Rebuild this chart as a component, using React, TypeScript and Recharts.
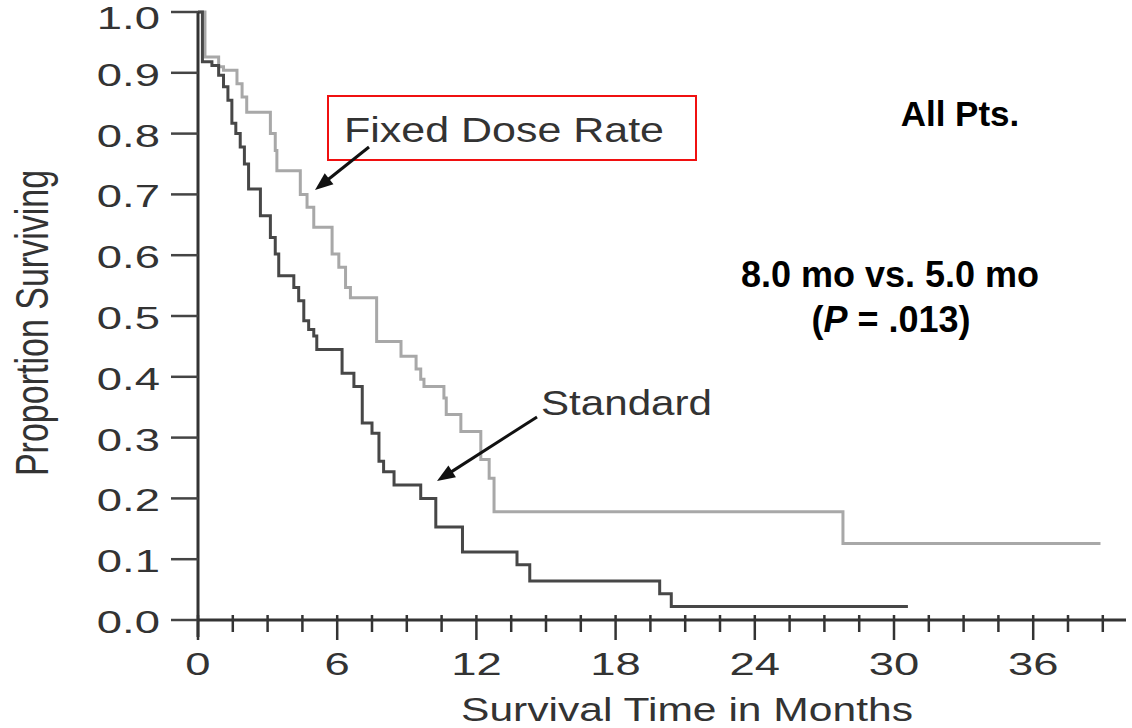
import React from 'react';
import { LineChart, Line, XAxis, YAxis, ReferenceLine } from 'recharts';

// Kaplan-Meier steps (months, proportion surviving)
const FIXED_MONTHS = [0, 0.3, 0.89, 1.1, 1.68, 1.9, 2.1, 3.12, 3.33, 3.4, 4.41, 4.7, 4.99, 5.78, 6.07, 6.36, 6.57, 7.7, 8.75, 9.4, 9.6, 9.74, 10.6, 10.7, 11.33, 12.19, 12.55, 12.76, 27.8, 38.9];
const FIXED_SURVIVAL = [1.0, 0.926, 0.91, 0.904, 0.882, 0.86, 0.835, 0.8, 0.772, 0.739, 0.7, 0.679, 0.646, 0.602, 0.58, 0.547, 0.53, 0.458, 0.434, 0.413, 0.396, 0.384, 0.365, 0.338, 0.31, 0.264, 0.233, 0.178, 0.126, 0.126];

const STANDARD_MONTHS = [0, 0.19, 0.6, 0.89, 1.1, 1.29, 1.46, 1.63, 1.82, 2.0, 2.18, 2.69, 3.12, 3.33, 3.48, 4.13, 4.34, 4.56, 4.77, 4.99, 5.12, 6.21, 6.72, 7.08, 7.5, 7.8, 8.0, 8.45, 9.6, 10.25, 11.4, 13.75, 14.3, 19.9, 20.4, 30.6];
const STANDARD_SURVIVAL = [1.0, 0.918, 0.912, 0.896, 0.877, 0.855, 0.817, 0.8, 0.778, 0.75, 0.709, 0.665, 0.629, 0.602, 0.566, 0.547, 0.525, 0.492, 0.478, 0.467, 0.445, 0.406, 0.384, 0.324, 0.307, 0.261, 0.244, 0.222, 0.2, 0.153, 0.112, 0.091, 0.064, 0.043, 0.022, 0.022];

const X_TICKS = [0, 1.5, 3, 4.5, 6, 7.5, 9, 10.5, 12, 13.5, 15, 16.5, 18, 19.5, 21, 22.5, 24, 25.5, 27, 28.5, 30, 31.5, 33, 34.5, 36, 37.5, 39];
const X_LABELED = [0, 6, 12, 18, 24, 30, 36];
const Y_TICKS = [0, 0.1, 0.2, 0.3, 0.4, 0.5, 0.6, 0.7, 0.8, 0.9, 1.0];

const fixedData = FIXED_MONTHS.map((t, i) => ({ t, s: FIXED_SURVIVAL[i] }));
const standardData = STANDARD_MONTHS.map((t, i) => ({ t, s: STANDARD_SURVIVAL[i] }));

const W = 1132;
const H = 728;
const FONT = '"Liberation Sans", Arial, Helvetica, sans-serif';
const SX = 1.42; // the scanned figure is stretched sideways
const INK = '#333';

function MonthTick({ x, y, payload }: any) {
  const major = X_LABELED.includes(payload.value);
  return (
    <g>
      <line x1={x} x2={x} y1={y - 5} y2={y + (major ? 20 : 12)} stroke={INK} strokeWidth={2.5} />
      {major && (
        <text
          transform={`translate(${x},${y + 55}) scale(${SX},1)`}
          textAnchor="middle"
          fontFamily={FONT}
          fontSize={32}
          fill={INK}
        >
          {payload.value}
        </text>
      )}
    </g>
  );
}

function ProportionTick({ x, y, payload }: any) {
  // top label sits a little lower in the original so it stays inside the frame
  const dy = payload.value >= 1 ? 16.5 : 13;
  return (
    <text
      transform={`translate(${x},${y + dy}) scale(${SX},1)`}
      textAnchor="end"
      fontFamily={FONT}
      fontSize={32}
      fill={INK}
    >
      {payload.value.toFixed(1)}
    </text>
  );
}

function Arrow({ x1, y1, x2, y2, head = 18 }: any) {
  const dx = x2 - x1;
  const dy = y2 - y1;
  const len = Math.sqrt(dx * dx + dy * dy);
  const ux = dx / len;
  const uy = dy / len;
  const bx = x2 - ux * head;
  const by = y2 - uy * head;
  const hw = 7;
  const pts = `${x2},${y2} ${bx - uy * hw},${by + ux * hw} ${bx + uy * hw},${by - ux * hw}`;
  return (
    <g>
      <line x1={x1} y1={y1} x2={bx + ux * 2} y2={by + uy * 2} stroke="#111" strokeWidth={3} />
      <polygon points={pts} fill="#111" />
    </g>
  );
}

export default function App() {
  return (
    <div style={{ position: 'absolute', left: 0, top: 0, width: W, height: H, background: '#fff' }}>
      <LineChart width={W} height={H} margin={{ top: 12, right: 6, left: 0, bottom: 0 }}>
        <XAxis
          dataKey="t"
          type="number"
          domain={[0, 40]}
          ticks={X_TICKS}
          interval={0}
          allowDataOverflow
          height={108}
          tickSize={0}
          tickMargin={0}
          tickLine={false}
          tick={<MonthTick />}
          axisLine={{ stroke: INK, strokeWidth: 3 }}
        />
        <YAxis
          type="number"
          domain={[0, 1]}
          ticks={Y_TICKS}
          interval={0}
          width={198}
          tickSize={27}
          tickMargin={11}
          tickLine={{ stroke: '#444', strokeWidth: 2.5 }}
          tick={<ProportionTick />}
          axisLine={{ stroke: INK, strokeWidth: 3 }}
        />
        <ReferenceLine
          segment={[{ x: 0, y: 0 }, { x: 0, y: -0.028 }]}
          stroke={INK}
          strokeWidth={3}
          ifOverflow="visible"
        />
        <Line
          data={fixedData}
          dataKey="s"
          type="stepAfter"
          stroke="#a8a8a8"
          strokeWidth={3}
          dot={false}
          isAnimationActive={false}
        />
        <Line
          data={standardData}
          dataKey="s"
          type="stepAfter"
          stroke="#474747"
          strokeWidth={3}
          dot={false}
          isAnimationActive={false}
        />
      </LineChart>

      <svg width={W} height={H} style={{ position: 'absolute', left: 0, top: 0, pointerEvents: 'none' }}>
        <text
          transform={`translate(48,323) scale(1.36,1) rotate(-90)`}
          textAnchor="middle"
          fontFamily={FONT}
          fontSize={34}
          fill={INK}
        >
          Proportion Surviving
        </text>
        <text
          x={461}
          y={721}
          textLength={452}
          lengthAdjust="spacingAndGlyphs"
          fontFamily={FONT}
          fontSize={34}
          fill={INK}
        >
          Survival Time in Months
        </text>

        <rect x={328} y={96} width={368} height={64} fill="none" stroke="#f01010" strokeWidth={2} />
        <text x={344} y={142} textLength={320} lengthAdjust="spacingAndGlyphs" fontFamily={FONT} fontSize={35} fill={INK}>
          Fixed Dose Rate
        </text>
        <Arrow x1={369} y1={147} x2={315} y2={190} />

        <text x={541} y={415} textLength={171} lengthAdjust="spacingAndGlyphs" fontFamily={FONT} fontSize={35} fill={INK}>
          Standard
        </text>
        <Arrow x1={537} y1={417} x2={437} y2={481} />

        <text x={960} y={126} textAnchor="middle" fontFamily={FONT} fontSize={35} fontWeight="bold" fill="#000">
          All Pts.
        </text>
        <text x={890} y={287} textAnchor="middle" fontFamily={FONT} fontSize={36} fontWeight="bold" fill="#000">
          8.0 mo vs. 5.0 mo
        </text>
        <text x={891} y={332} textAnchor="middle" fontFamily={FONT} fontSize={36} fontWeight="bold" fill="#000">
          (<tspan fontStyle="italic">P</tspan> = .013)
        </text>
      </svg>
    </div>
  );
}
